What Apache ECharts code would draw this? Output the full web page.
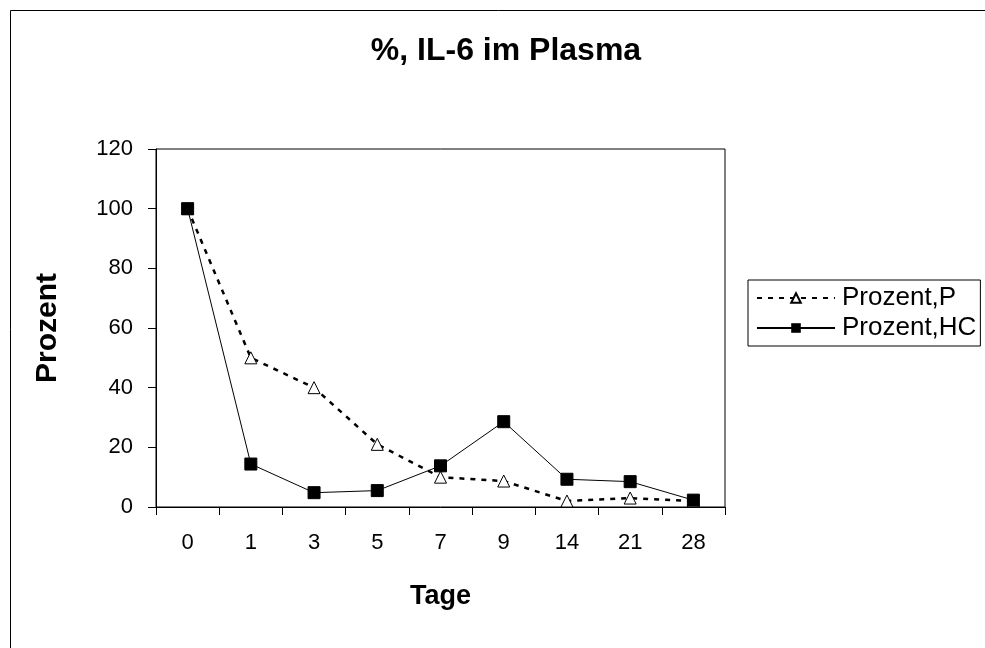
<!DOCTYPE html>
<html><head><meta charset="utf-8">
<script src="https://cdn.jsdelivr.net/npm/echarts@6/dist/echarts.min.js"></script>
<style>html,body{margin:0;padding:0;background:#fff}#c{width:985px;height:648px}</style>
</head><body><div id="c"></div>
<script>
const categories = ['0','1','3','5','7','9','14','21','28'];
const seriesP = [100, 50, 40, 21, 10, 8.7, 2, 3, 2];
const seriesHC = [100, 14.4, 4.8, 5.5, 13.8, 28.6, 9.3, 8.5, 2.3];
const yTicks = {min: 0, max: 120, interval: 20};

const chart = echarts.init(document.getElementById('c'), null, {renderer: 'canvas'});
const font = 'Liberation Sans, Arial, sans-serif';
chart.setOption({
  animation: false,
  backgroundColor: '#fff',
  graphic: [{type: 'rect', shape: {x: 10.5, y: 10.5, width: 990, height: 700}, style: {fill: 'none', stroke: '#000', lineWidth: 1}, silent: true}],
  title: {text: '%, IL-6 im Plasma', left: 501, top: 30, textAlign: 'center',
    textStyle: {fontFamily: font, fontSize: 32, fontWeight: 'bold', color: '#000'}},
  legend: {
    orient: 'vertical', left: 748, top: 280, itemGap: 4,
    padding: [5, 4, 5, 8],
    borderColor: '#000', borderWidth: 1, borderRadius: 0,
    itemWidth: 78, itemHeight: 12,
    textStyle: {fontFamily: font, fontSize: 26, color: '#000', padding: [0,0,0,2]},
    data: [{name: 'Prozent,P'}, {name: 'Prozent,HC'}]
  },
  grid: {left: 156, top: 149, width: 569, height: 358, show: true, borderColor: '#000', borderWidth: 1, backgroundColor: '#fff'},
  xAxis: {type: 'category', data: categories, boundaryGap: true,
    name: 'Tage', nameLocation: 'middle', nameGap: 76,
    nameTextStyle: {fontFamily: font, fontSize: 27, fontWeight: 'bold', color: '#000'},
    axisLine: {lineStyle: {color: '#000', width: 1}},
    axisTick: {show: true, alignWithLabel: false, length: 8, inside: false, lineStyle: {color: '#000'}},
    axisLabel: {fontFamily: font, fontSize: 22, color: '#000', margin: 25},
    splitLine: {show: false}},
  yAxis: {type: 'value', min: yTicks.min, max: yTicks.max, interval: yTicks.interval,
    name: 'Prozent', nameLocation: 'middle', nameGap: 93, nameRotate: 90,
    nameTextStyle: {fontFamily: font, fontSize: 30, fontWeight: 'bold', color: '#000'},
    axisLine: {show: true, lineStyle: {color: '#000', width: 1}},
    axisTick: {show: true, length: 8, lineStyle: {color: '#000'}},
    axisLabel: {fontFamily: font, fontSize: 22, color: '#000', margin: 23},
    splitLine: {show: false}},
  series: [
    {name: 'Prozent,P', type: 'line', data: seriesP, symbol: 'triangle', symbolSize: 12,
      itemStyle: {color: '#fff', borderColor: '#000', borderWidth: 1},
      lineStyle: {color: '#000', width: 2.5, type: [5, 6]}, z: 2},
    {name: 'Prozent,HC', type: 'line', data: seriesHC, symbol: 'rect', symbolSize: 12,
      itemStyle: {color: '#000', borderColor: '#000'},
      lineStyle: {color: '#000', width: 1}, z: 3}
  ]
});
</script></body></html>
